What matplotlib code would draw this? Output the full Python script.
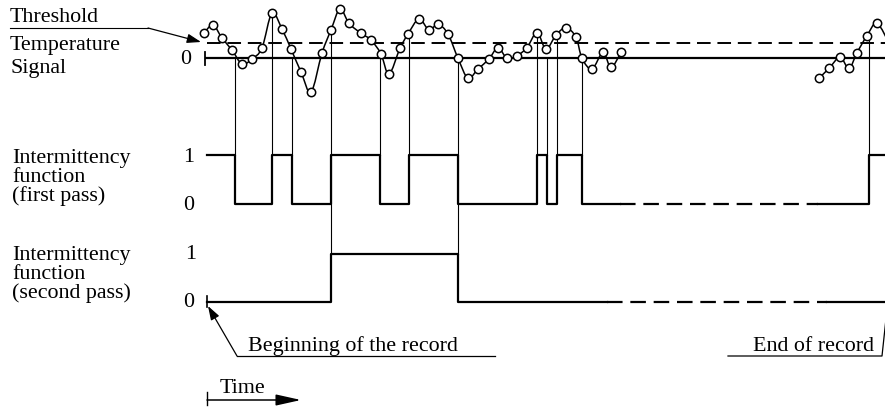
import numpy as np
import matplotlib
matplotlib.use("Agg")
import matplotlib.pyplot as plt
from matplotlib.path import Path
from matplotlib.patches import PathPatch
from matplotlib.transforms import Affine2D

# ---------------- data ----------------
# time in arbitrary units from the beginning of the record
sig1_t = [-1, 8, 17, 27, 37, 47, 57, 67, 77, 86, 96, 106, 117, 126, 135, 144, 156, 166,
          176, 184, 195, 203, 214, 224, 233, 243, 253, 263, 273, 284, 293, 302, 312, 322,
          332, 341, 351, 361, 371, 377, 387, 398, 406, 416]
sig1_v = [1.67, 2.2, 1.33, 0.53, -0.4, -0.07, 0.67, 3.0, 1.93, 0.6, -0.93, -2.27, 0.33,
          1.87, 3.27, 2.31, 1.65, 1.2, 0.27, -1.07, 0.65, 1.6, 2.6, 1.87, 2.25, 1.6, -0.02,
          -1.35, -0.73, -0.07, 0.69, -0.02, 0.15, 0.69, 1.69, 0.6, 1.53, 2.02, 1.38, -0.02,
          -0.73, 0.37, -0.62, 0.37]
sig2_t = [614, 624, 635, 644, 652, 662, 672, 685]
sig2_v = [-1.35, -0.69, 0.05, -0.69, 0.35, 1.49, 2.31, 0.87]
threshold = 1.0

record_start, record_end = 0, 680
pass1_edges = [30, 67, 87, 126, 175, 204, 253, 332, 342, 352, 377, 664]
pass1_start = 1
pass1_gap = (415, 613)
pass2_edges = [126, 253]
pass2_start = 0
pass2_gap = (402, 622)

FONT = "Liberation Serif"
FS = 15.8

# ---------------- figure ----------------
fig = plt.figure(figsize=(8.85, 4.07), dpi=100)
ax = fig.add_axes([0, 0, 1, 1])
ax.set_xlim(0, 885)
ax.set_ylim(407, 0)
ax.axis("off")

X0 = 205  # pixel position of record start
p_sig = Affine2D().scale(1, -15).translate(X0, 58)
p_ip1 = Affine2D().scale(1, -49).translate(X0, 204)
p_ip2 = Affine2D().scale(1, -48).translate(X0, 302)
T_sig = p_sig + ax.transData
T_ip1 = p_ip1 + ax.transData
T_ip2 = p_ip2 + ax.transData

K = "black"

# zero line and tick
ax.plot([record_start, record_end], [0, 0], color=K, lw=1.6, transform=T_sig, solid_capstyle="butt")
ax.plot([record_start, record_start], [-0.45, 0.4], color=K, lw=1.3, transform=T_sig)
# threshold
ax.plot([record_start + 2, record_end], [threshold, threshold], color=K, lw=1.4,
        dashes=(7, 3.5), transform=T_sig)


def smooth_path(t, v):
    pts = np.column_stack([t, v]).astype(float)
    ext = np.vstack([pts[0], pts, pts[-1]])
    verts = [pts[0]]
    codes = [Path.MOVETO]
    for i in range(len(pts) - 1):
        p0, p1, p2, p3 = ext[i], ext[i + 1], ext[i + 2], ext[i + 3]
        c1 = p1 + (p2 - p0) / 6.0
        c2 = p2 - (p3 - p1) / 6.0
        verts += [c1, c2, p2]
        codes += [Path.CURVE4] * 3
    return Path(verts, codes)


for t, v in [(sig1_t, sig1_v), (sig2_t, sig2_v)]:
    ax.add_patch(PathPatch(smooth_path(t, v), facecolor="none", edgecolor=K, lw=1.1,
                           transform=T_sig))
    ax.plot(t, v, ls="none", marker="o", ms=6, mfc="white", mec=K, mew=1.1,
            transform=T_sig, zorder=5)


def step_line(edges, start, t0, t1):
    lvl = start
    for e in edges:
        if e <= t0:
            lvl = 1 - lvl
    xs, ys = [t0], [lvl]
    for e in edges:
        if t0 < e < t1:
            xs += [e, e]
            ys += [lvl, 1 - lvl]
            lvl = 1 - lvl
    xs.append(t1)
    ys.append(lvl)
    return xs, ys


for edges, start, gap, T, t0 in [(pass1_edges, pass1_start, pass1_gap, T_ip1, 2),
                                 (pass2_edges, pass2_start, pass2_gap, T_ip2, 2)]:
    for a, b, solid in [(t0, gap[0], True), (gap[0], gap[1], False), (gap[1], record_end, True)]:
        xs, ys = step_line(edges, start, a, b)
        kw = dict(color=K, lw=1.6, transform=T)
        if not solid:
            kw["dashes"] = (7, 3.5)
        ax.plot(xs, ys, **kw)

# second-pass tick at its zero
ax.plot([2, 2], [-0.1, 0.12], color=K, lw=1.2, transform=T_ip2)

# connectors
all_t = np.array(sig1_t + sig2_t, float)
all_v = np.array(sig1_v + sig2_v, float)
for i, e in enumerate(pass1_edges):
    rising = ((pass1_start + i + 1) % 2) == 1
    v0 = np.interp(e, all_t, all_v) if rising else 0.0
    top = p_sig.transform([[e, v0]])[0]
    if e in pass2_edges:
        bot = p_ip2.transform([[e, 1]])[0]
    else:
        bot = p_ip1.transform([[e, 1]])[0]
    ax.plot([top[0], bot[0]], [top[1], bot[1]], color=K, lw=0.8)

# ---------------- texts ----------------
tk = dict(fontfamily=FONT, fontsize=FS, color=K, va="baseline", ha="left")
ax.text(10, 22, "Threshold", **tk)
ax.text(10, 50, "Temperature", **tk)
ax.text(10, 73, "Signal", **tk)
ax.text(180, 64, "0", **tk)

ax.text(12, 163, "Intermittency", **tk)
ax.text(12, 182, "function", **tk)
ax.text(12, 201, "(first pass)", **tk)
ax.text(183, 162, "1", **tk)
ax.text(183, 210, "0", **tk)

ax.text(12, 260, "Intermittency", **tk)
ax.text(12, 279, "function", **tk)
ax.text(12, 298, "(second pass)", **tk)
ax.text(185, 259, "1", **tk)
ax.text(183, 307, "0", **tk)

ax.text(248, 351, "Beginning of the record", **tk)
ax.text(753, 351, "End of record", **tk)
ax.text(220, 393, "Time", **tk)

# threshold pointer
ax.plot([10, 148], [28, 28], color=K, lw=0.8)
ax.annotate("", xy=(201, 42), xytext=(148, 28),
            arrowprops=dict(arrowstyle="-|>,head_length=0.6,head_width=0.2", color=K, lw=0.9,
                            mutation_scale=14, shrinkA=0, shrinkB=0))
# beginning pointer
ax.plot([237, 495], [356, 356], color=K, lw=0.9)
ax.annotate("", xy=(208, 306), xytext=(237, 356),
            arrowprops=dict(arrowstyle="-|>,head_length=0.6,head_width=0.2", color=K, lw=0.9,
                            mutation_scale=14, shrinkA=0, shrinkB=0))
# end pointer
ax.plot([728, 882, 888], [356, 356, 300], color=K, lw=0.9)
# time arrow
ax.plot([207, 207], [392, 405], color=K, lw=1.0)
ax.annotate("", xy=(301, 400), xytext=(207, 400),
            arrowprops=dict(arrowstyle="-|>,head_length=0.9,head_width=0.2", color=K, lw=1.1,
                            mutation_scale=17, shrinkA=0, shrinkB=0))

fig.savefig("out.png", dpi=100)
